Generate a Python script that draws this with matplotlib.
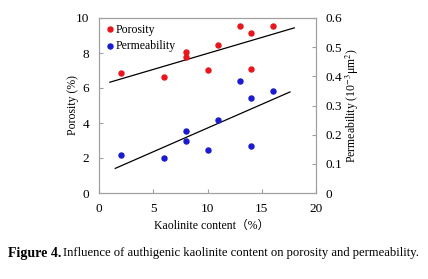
import numpy as np
import matplotlib
matplotlib.use("Agg")
import matplotlib.pyplot as plt

# DATOS
kaolinita = [2, 6, 8, 8, 10, 11, 13, 14, 14, 16]                          # contenido de caolinita (%)
porosidad = [6.84, 6.61, 8.07, 7.79, 7.05, 8.46, 9.54, 9.12, 7.09, 9.54]  # porosidad (%)
permeab = [0.131, 0.120, 0.212, 0.178, 0.148, 0.249, 0.384, 0.326, 0.161, 0.351]  # 10^-3 um2

x_ticks = [0, 5, 10, 15, 20]
y_ticks = [0, 2, 4, 6, 8, 10]
y2_ticks = [0, 0.1, 0.2, 0.3, 0.4, 0.5, 0.6]
y2_labels = ["0", "0.1", "0.2", "0.3", "0.4", "0.5", "0.6"]

plt.rcParams['font.family'] = ['Liberation Serif', 'Noto Sans CJK SC']
plt.rcParams['mathtext.fontset'] = 'stix'

fig = plt.figure(figsize=(4.28, 2.79), dpi=100)
ax = fig.add_axes([99/428, 1 - 193/279, 217/428, 175/279])
ax2 = ax.twinx()

ax.scatter(kaolinita, porosidad, s=13, color='#e8161c', zorder=3, label='Porosity')
ax2.scatter(kaolinita, permeab, s=13, color='#1a1ad0', zorder=3, label='Permeability')

# líneas de tendencia (ajuste lineal)
a, b = np.polyfit(kaolinita, porosidad, 1)
xs = np.array([1.0, 18.0])
ax.plot(xs, a * xs + b, color='black', lw=0.9)
c, d = np.polyfit(kaolinita, permeab, 1)
xs2 = np.array([1.5, 17.6])
ax2.plot(xs2, c * xs2 + d, color='black', lw=0.9)

ax.set_xlim(0, 20)
ax.set_ylim(0, 10)
ax2.set_ylim(0, 0.6)
ax.set_xticks(x_ticks)
ax.set_yticks(y_ticks)
ax2.set_yticks(y2_ticks)
ax2.set_yticklabels(y2_labels)

for a_ in (ax, ax2):
    for s in a_.spines.values():
        s.set_color('#a0a0a0')
        s.set_linewidth(0.8)
    a_.tick_params(direction='in', length=3, width=0.8, color='#a0a0a0',
                   labelsize=9.5, pad=7)

ax.set_xlabel('Kaolinite content（%）', fontsize=8.5)
ax.xaxis.set_label_coords(0.52, -0.155)
ax.set_ylabel('Porosity (%)', fontsize=8.5, labelpad=-2)
ax2.set_ylabel(r'Permeability (10$^{-3}$μm$^2$)', fontsize=8.5, rotation=90, labelpad=1)

h1, l1 = ax.get_legend_handles_labels()
h2, l2 = ax2.get_legend_handles_labels()
ax.legend(h1 + h2, l1 + l2, loc='upper left', frameon=False, fontsize=8.5,
          handletextpad=-0.5, borderaxespad=0.0, labelspacing=0.35,
          bbox_to_anchor=(-0.025, 0.995))

fig.text(8/428, 1 - 253/279, 'Figure 4.', fontsize=10, fontweight='bold', va='center')
fig.text(63/428, 1 - 253/279,
         'Influence of authigenic kaolinite content on porosity and permeability.',
         fontsize=9.1, va='center')

fig.savefig('out.png', dpi=100)
